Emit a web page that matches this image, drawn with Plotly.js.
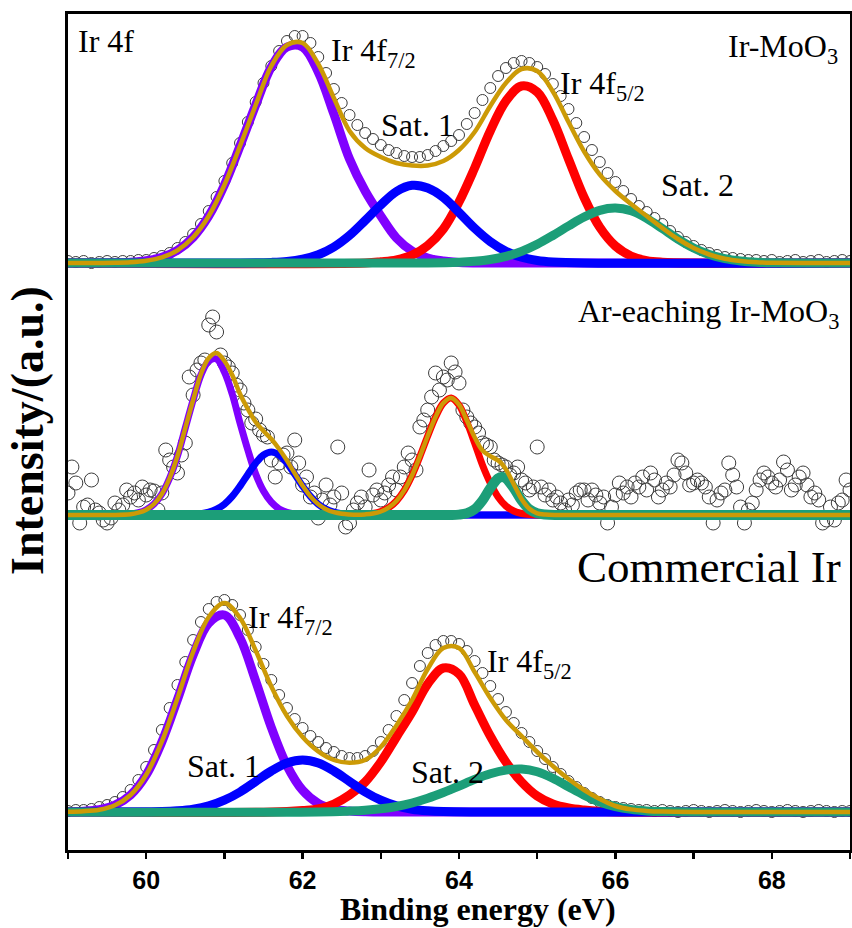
<!DOCTYPE html>
<html><head><meta charset="utf-8">
<script src="https://cdn.plot.ly/plotly-3.0.1.min.js"></script>
<style>html,body{margin:0;padding:0;background:#fff}#chart{width:852px;height:928px}</style>
</head><body><div id="chart"></div>
<script>
// ================= DATA (intensity in a.u., relative to each spectrum's baseline) =================
const dataStart = 59.0;
const topStep = 0.1, midStep = 0.05, botStep = 0.1;

// --- Ir-MoO3 (top) : measured points 59.0 ... 69.0 eV
const topData = [2,1,2,0,1,2,1,2,2,3,
 3,5,7,10,15,21,29,39,52,66,
 82,100,120,141,161,180,197,212,222,227,
 227,220,206,190,174,160,148,138,130,124,
 118,113,110,107,106,106,108,112,117,122,
 128,139,150,163,175,187,195,200,202,200,
 196,189,179,167,154,140,126,113,101,90,
 81,72,64,57,51,45,39,32,26,21,
 17,13,10,8,6,5,4,3,3,2,
 3,1,2,3,1,2,3,1,2,3,
 2];
const topPurpleE = [59.0,59.6,59.8,60.0,60.2,60.4,60.6,60.8,61.0,61.2,61.4,61.6,61.8,62.0,62.2,62.4,62.6,62.8,63.0,63.2,63.4,63.6,63.8,64.0,64.4,69.0];
const topPurple  = [0,0.3,0.8,2.3,5.6,12.7,25.7,47,78,117,158,196,216,216,191,149,104,72,47,25,12,5,2,0.5,0,0];
const topBlueE = [59.0,61.2,61.6,61.8,62.0,62.2,62.4,62.6,62.8,63.0,63.2,63.4,63.6,63.8,64.0,64.2,64.4,64.6,64.8,65.0,65.2,65.6,69.0];
const topBlue  = [0,0,0.6,1.5,3.8,8.3,16,27.6,42.5,58,71.5,77.7,75,65.6,50.5,34.7,21.4,11.7,5.7,2.5,1,0,0];
const topRedE = [59.0,62.8,63.0,63.2,63.4,63.6,63.8,64.0,64.2,64.4,64.6,64.8,65.0,65.2,65.4,65.6,65.8,66.0,66.2,66.4,66.6,67.0,69.0];
const topRed  = [0,0,1.2,3.1,7.8,17.5,34,61,95,132,162,177,171,143,104,65.5,35.7,17,7,2.4,0.8,0,0];
const topGreenE = [59.0,63.6,64.0,64.2,64.4,64.6,64.8,65.0,65.2,65.4,65.6,65.8,66.0,66.2,66.4,66.6,66.8,67.0,67.2,67.4,67.6,67.8,68.0,68.4,69.0];
const topGreen  = [0,0,0.7,1.7,3.5,6.6,11.6,18.7,27.5,37,46,52.7,55,52.2,44.7,34.4,23.9,15,8.5,4.3,2,0.8,0.3,0,0];
const topEnvE = [59.0,59.6,59.8,60.0,60.2,60.4,60.6,60.8,61.0,61.2,61.4,61.6,61.8,62.0,62.2,62.4,62.6,62.8,63.0,63.2,63.4,63.6,63.8,64.0,64.2,64.4,64.6,64.8,65.0,65.2,65.4,65.6,65.8,66.0,66.2,66.4,66.6,66.8,67.0,67.2,67.4,67.6,67.8,68.0,68.4,69.0];
const topEnv  = [0,0.3,0.8,2.3,5.6,12.7,25.7,47,78,117,158,197,218,220,199,165,132,115,106,100,97.5,97.5,102,113,131,157,180,194,192,171.5,141,111.5,88.4,72,59,47,35,24,15,8.5,4.3,2,0.8,0.3,0,0];

// --- Ar-etched Ir-MoO3 (middle)
const midData = [22,48,32,-8,8,10,35,5,2,-5,-8,-3,12,5,10,25,18,22,15,28,
 20,25,24,5,22,65,55,48,42,60,72,138,120,145,152,155,190,198,183,160,
 152,148,142,130,125,112,105,92,96,85,80,78,55,38,52,60,62,48,75,52,
 30,38,18,22,-3,15,30,10,18,68,22,-12,-8,5,12,18,8,45,20,25,
 15,22,30,38,25,38,48,62,55,45,88,95,105,118,142,125,138,135,152,143,
 132,105,98,92,88,82,72,70,68,55,52,50,48,40,42,48,35,32,25,28,
 68,28,20,25,15,18,12,5,15,10,22,25,25,15,25,20,12,18,-8,8,
 20,32,22,28,18,32,28,38,25,42,35,18,25,32,28,40,55,52,42,30,
 32,35,32,28,18,-8,15,22,25,52,40,28,8,-8,5,12,25,35,42,38,
 32,28,35,53,45,25,30,38,42,30,18,22,15,-8,-5,8,-5,12,15,35,
 25];
const midPurpleE = [59.0,59.8,59.9,60.0,60.1,60.2,60.3,60.4,60.5,60.6,60.7,60.8,60.9,61.0,61.1,61.2,61.3,61.4,61.5,61.6,61.7,61.8,61.9,62.0,62.2,69.0];
const midPurple  = [0,0.8,2.3,5.3,11,21,37,59,87,115,140,154,156,143,121,92,65,41,24,12.8,6.1,2.7,1.1,0.4,0,0];
const midBlueE = [59.0,60.5,60.7,60.8,60.9,61.0,61.1,61.2,61.3,61.4,61.5,61.6,61.7,61.8,61.9,62.0,62.1,62.2,62.3,62.4,62.5,62.6,62.8,69.0];
const midBlue  = [0,0,1.2,2.8,5.8,10.8,18.6,28.9,40.6,51.8,60,63,60,51.8,40.6,28.9,18.6,10.8,5.8,2.8,1.2,0.5,0,0];
const midRedE = [59.0,62.6,62.8,62.9,63.0,63.1,63.2,63.3,63.4,63.5,63.6,63.7,63.8,63.9,64.0,64.1,64.2,64.3,64.4,64.5,64.6,64.7,64.8,64.9,65.1,69.0];
const midRed  = [0,0,0.6,1.5,3.5,7.3,14,24.6,39.7,58.6,79,98,112,117,110,93,72,50,32,18,9,4,1.5,0.5,0,0];
const midGreenE = [59.0,63.9,64.0,64.1,64.2,64.3,64.4,64.5,64.55,64.6,64.7,64.8,64.9,65.0,65.1,65.3,69.0];
const midGreen  = [0,0,0.4,1.7,5.7,14.5,26.9,36.6,38,36.6,26.9,14.5,5.7,1.7,0.4,0,0];
const midEnvE = [59.0,59.8,59.9,60.0,60.1,60.2,60.3,60.4,60.5,60.6,60.7,60.8,60.9,61.0,61.1,61.2,61.3,61.4,61.5,61.6,61.7,61.8,61.9,62.0,62.1,62.2,62.3,62.4,62.5,62.6,62.7,62.8,62.9,63.0,63.1,63.2,63.3,63.4,63.5,63.6,63.7,63.8,63.9,64.0,64.1,64.2,64.3,64.4,64.5,64.55,64.6,64.7,64.8,64.9,65.0,65.1,65.3,69.0];
const midEnv  = [0,0.8,2.3,5.3,11,21,37,59,87,115,141,157,162,154,140,121,106,93,84,76,66,54.5,41.7,29.3,18.6,10.8,5.8,2.8,1.2,0.5,0.2,0.6,1.5,3.5,7.3,14,24.6,39.7,58.6,79,98,112,117,110.4,94.7,77.7,64.5,58.9,54.6,51,45.6,30.9,16,6.2,1.7,0.4,0,0];

// --- Commercial Ir (bottom)
const botData = [1,2,2,3,5,7,10,15,22,32,
 45,62,82,104,127,150,172,190,203,210,
 212,207,197,182,165,148,132,117,104,93,
 84,76,70,64,60,56,54,54,56,61,
 70,82,96,112,129,146,159,167,171,171,
 168,161,151,139,126,113,100,89,79,70,
 61,53,45,38,31,25,19,14,10,7,
 5,4,3,2,2,1,2,1,0,1,
 2,1,0,1,2,1,0,1,2,1,
 0,1,2,1,0,1,2,1,0,1,
 1];
const botPurpleE = [59.0,59.2,59.4,59.6,59.8,60.0,60.2,60.4,60.6,60.8,61.0,61.2,61.4,61.6,61.8,62.0,62.2,62.4,62.6,62.8,63.2,69.0];
const botPurple  = [0.3,0.8,2.3,6.8,17,37,70,112.5,157,189,197,174,131,84.5,46.4,21.7,8.6,2.9,0.9,0.2,0,0];
const botBlueE = [59.0,60.0,60.2,60.4,60.6,60.8,61.0,61.2,61.4,61.6,61.8,62.0,62.2,62.4,62.6,62.8,63.0,63.2,63.4,63.6,63.8,64.2,69.0];
const botBlue  = [0,0.2,0.4,1.2,2.8,6.1,11.8,20,30.5,41,49,52,49,41,30.5,20,11.8,6.1,2.8,1.2,0.4,0,0];
const botRedE = [59.0,61.6,62.0,62.2,62.4,62.6,62.8,63.0,63.2,63.4,63.6,63.8,64.0,64.2,64.4,64.6,64.8,65.0,65.2,65.4,65.6,65.8,66.2,69.0];
const botRed  = [0,0,1.5,3,8,17,30,50,75,100,128,144,138,107,76,50,30,16,8,4,2,0.8,0,0];
const botGreenE = [59.0,62.2,62.6,62.8,63.0,63.2,63.4,63.6,63.8,64.0,64.2,64.4,64.6,64.8,65.0,65.2,65.4,65.6,65.8,66.0,66.2,66.4,66.6,67.0,69.0];
const botGreen  = [0,0,0.9,1.7,3.2,5.5,9,13.7,19.5,26,32.6,38.2,41.9,43,40.2,33.7,25.2,16.9,10.1,5.4,2.6,1.1,0.4,0,0];
const botEnvE = [59.0,59.2,59.4,59.6,59.8,60.0,60.2,60.4,60.6,60.8,61.0,61.2,61.4,61.6,61.8,62.0,62.2,62.4,62.6,62.8,63.0,63.2,63.4,63.6,63.8,64.0,64.2,64.4,64.6,64.8,65.0,65.2,65.4,65.6,65.8,66.0,66.2,66.4,66.6,67.0,69.0];
const botEnv  = [0.3,0.8,2.3,6.8,17,37.2,70.4,113.7,160,195,209,194,161.5,125.5,96,75,60.6,52,49.3,52,65,86.6,112,143,164,164,140,114,92,76,60,46,33,22,13,6,2.6,1.1,0.4,0,0];

const tickValues = [60, 62, 64, 66, 68];
const tickLabels = ['60', '62', '64', '66', '68'];

// ================= STYLE / LAYOUT =================
const stackOffset = {top: 587, mid: 335, bot: 38};
const COL = {purple: '#8000FF', red: '#FF0000', blue: '#0000FF', green: '#1C9E78', env: '#CC9A06', pt: '#3c3c3c'};
const SERIF = 'Liberation Serif, Times New Roman, serif';

function grid(n, step) { return Array.from({length: n}, (_, i) => +(dataStart + i * step).toFixed(3)); }
function shift(arr, off) { return arr.map(v => v + off); }

function panel(off, data, step, ptSize, comps, env, compW) {
  const t = [];
  t.push({x: grid(data.length, step), y: shift(data, off), mode: 'markers', type: 'scatter', hoverinfo: 'skip',
    marker: {symbol: 'circle-open', size: ptSize, color: COL.pt, line: {width: 1, color: COL.pt}}});
  comps.forEach(c => t.push({x: c[0], y: shift(c[1], off), mode: 'lines', type: 'scatter', hoverinfo: 'skip',
    line: {color: c[2], width: c[3] || compW, shape: 'spline', smoothing: 1}}));
  t.push({x: env[0], y: shift(env[1], off), mode: 'lines', type: 'scatter', hoverinfo: 'skip',
    line: {color: COL.env, width: 4.5, shape: 'spline', smoothing: 1}});
  return t;
}

const traces = [].concat(
  panel(stackOffset.top, topData, topStep, 11,
    [[topPurpleE, topPurple, COL.purple], [topRedE, topRed, COL.red], [topBlueE, topBlue, COL.blue], [topGreenE, topGreen, COL.green]],
    [topEnvE, topEnv], 9),
  panel(stackOffset.mid, midData, midStep, 14,
    [[midPurpleE, midPurple, COL.purple, 7], [midBlueE, midBlue, COL.blue, 7], [midRedE, midRed, COL.red, 7], [midGreenE, midGreen, COL.green, 10]],
    [midEnvE, midEnv], 7),
  panel(stackOffset.bot, botData, botStep, 11,
    [[botPurpleE, botPurple, COL.purple], [botRedE, botRed, COL.red], [botBlueE, botBlue, COL.blue], [botGreenE, botGreen, COL.green]],
    [botEnvE, botEnv], 9)
);

function lab(text, x, y, xanchor, size) {
  return {text: text, x: x, y: y, xref: 'x', yref: 'y', xanchor: xanchor, yanchor: 'middle', showarrow: false,
    font: {family: SERIF, size: size || 32, color: '#000'}};
}

const annotations = [
  lab('Ir 4f', 59.10, 809.5, 'left'),
  lab('Ir 4f<sub>7/2</sub>', 62.34, 797.5, 'left'),
  lab('Sat. 1', 62.98, 725, 'left'),
  lab('Ir 4f<sub>5/2</sub>', 65.26, 764.5, 'left'),
  lab('Sat. 2', 66.56, 665, 'left'),
  lab('Ir-MoO<sub>3</sub>', 68.87, 802, 'right'),
  lab('Ar-eaching Ir-MoO<sub>3</sub>', 68.89, 536.5, 'right'),
  lab('Commercial Ir', 68.91, 283.3, 'right', 45),
  lab('Ir 4f<sub>7/2</sub>', 61.27, 231, 'left'),
  lab('Ir 4f<sub>5/2</sub>', 64.33, 187, 'left'),
  lab('Sat. 1', 60.49, 84.2, 'left'),
  lab('Sat. 2', 63.36, 78.5, 'left'),
  {text: '<b>Binding energy (eV)</b>', xref: 'paper', yref: 'paper', x: 0.524, y: -0.070, xanchor: 'center', yanchor: 'middle',
   showarrow: false, font: {family: SERIF, size: 32, color: '#000'}},
  {text: '<b>Intensity/(a.u.)</b>', xref: 'paper', yref: 'paper', x: -0.0512, y: 0.5024, xanchor: 'center', yanchor: 'middle',
   textangle: -90, showarrow: false, font: {family: SERIF, size: 46, color: '#000'}}
];

const layout = {
  width: 852, height: 928,
  margin: {l: 68, r: 2, t: 14, b: 78},
  paper_bgcolor: '#ffffff', plot_bgcolor: '#ffffff',
  showlegend: false,
  xaxis: {range: [59, 69], showline: true, linewidth: 3, linecolor: '#000', mirror: true,
    ticks: 'outside', ticklen: 6, tickwidth: 2.5, tickcolor: '#000',
    tickmode: 'array', tickvals: tickValues, ticktext: tickLabels, ticklabelstandoff: 0,
    showgrid: false, zeroline: false,
    tickfont: {family: 'Liberation Sans, Arial, sans-serif', size: 25, color: '#000', weight: 'bold'},
    minor: {dtick: 1, tick0: 59, ticks: 'outside', ticklen: 6, tickwidth: 2.5, tickcolor: '#000', showgrid: false}},
  yaxis: {range: [0, 836], showline: true, linewidth: 3, linecolor: '#000', mirror: true,
    ticks: '', showticklabels: false, showgrid: false, zeroline: false},
  annotations: annotations
};

Plotly.newPlot('chart', traces, layout, {staticPlot: true, displayModeBar: false});
</script>
</body></html>
